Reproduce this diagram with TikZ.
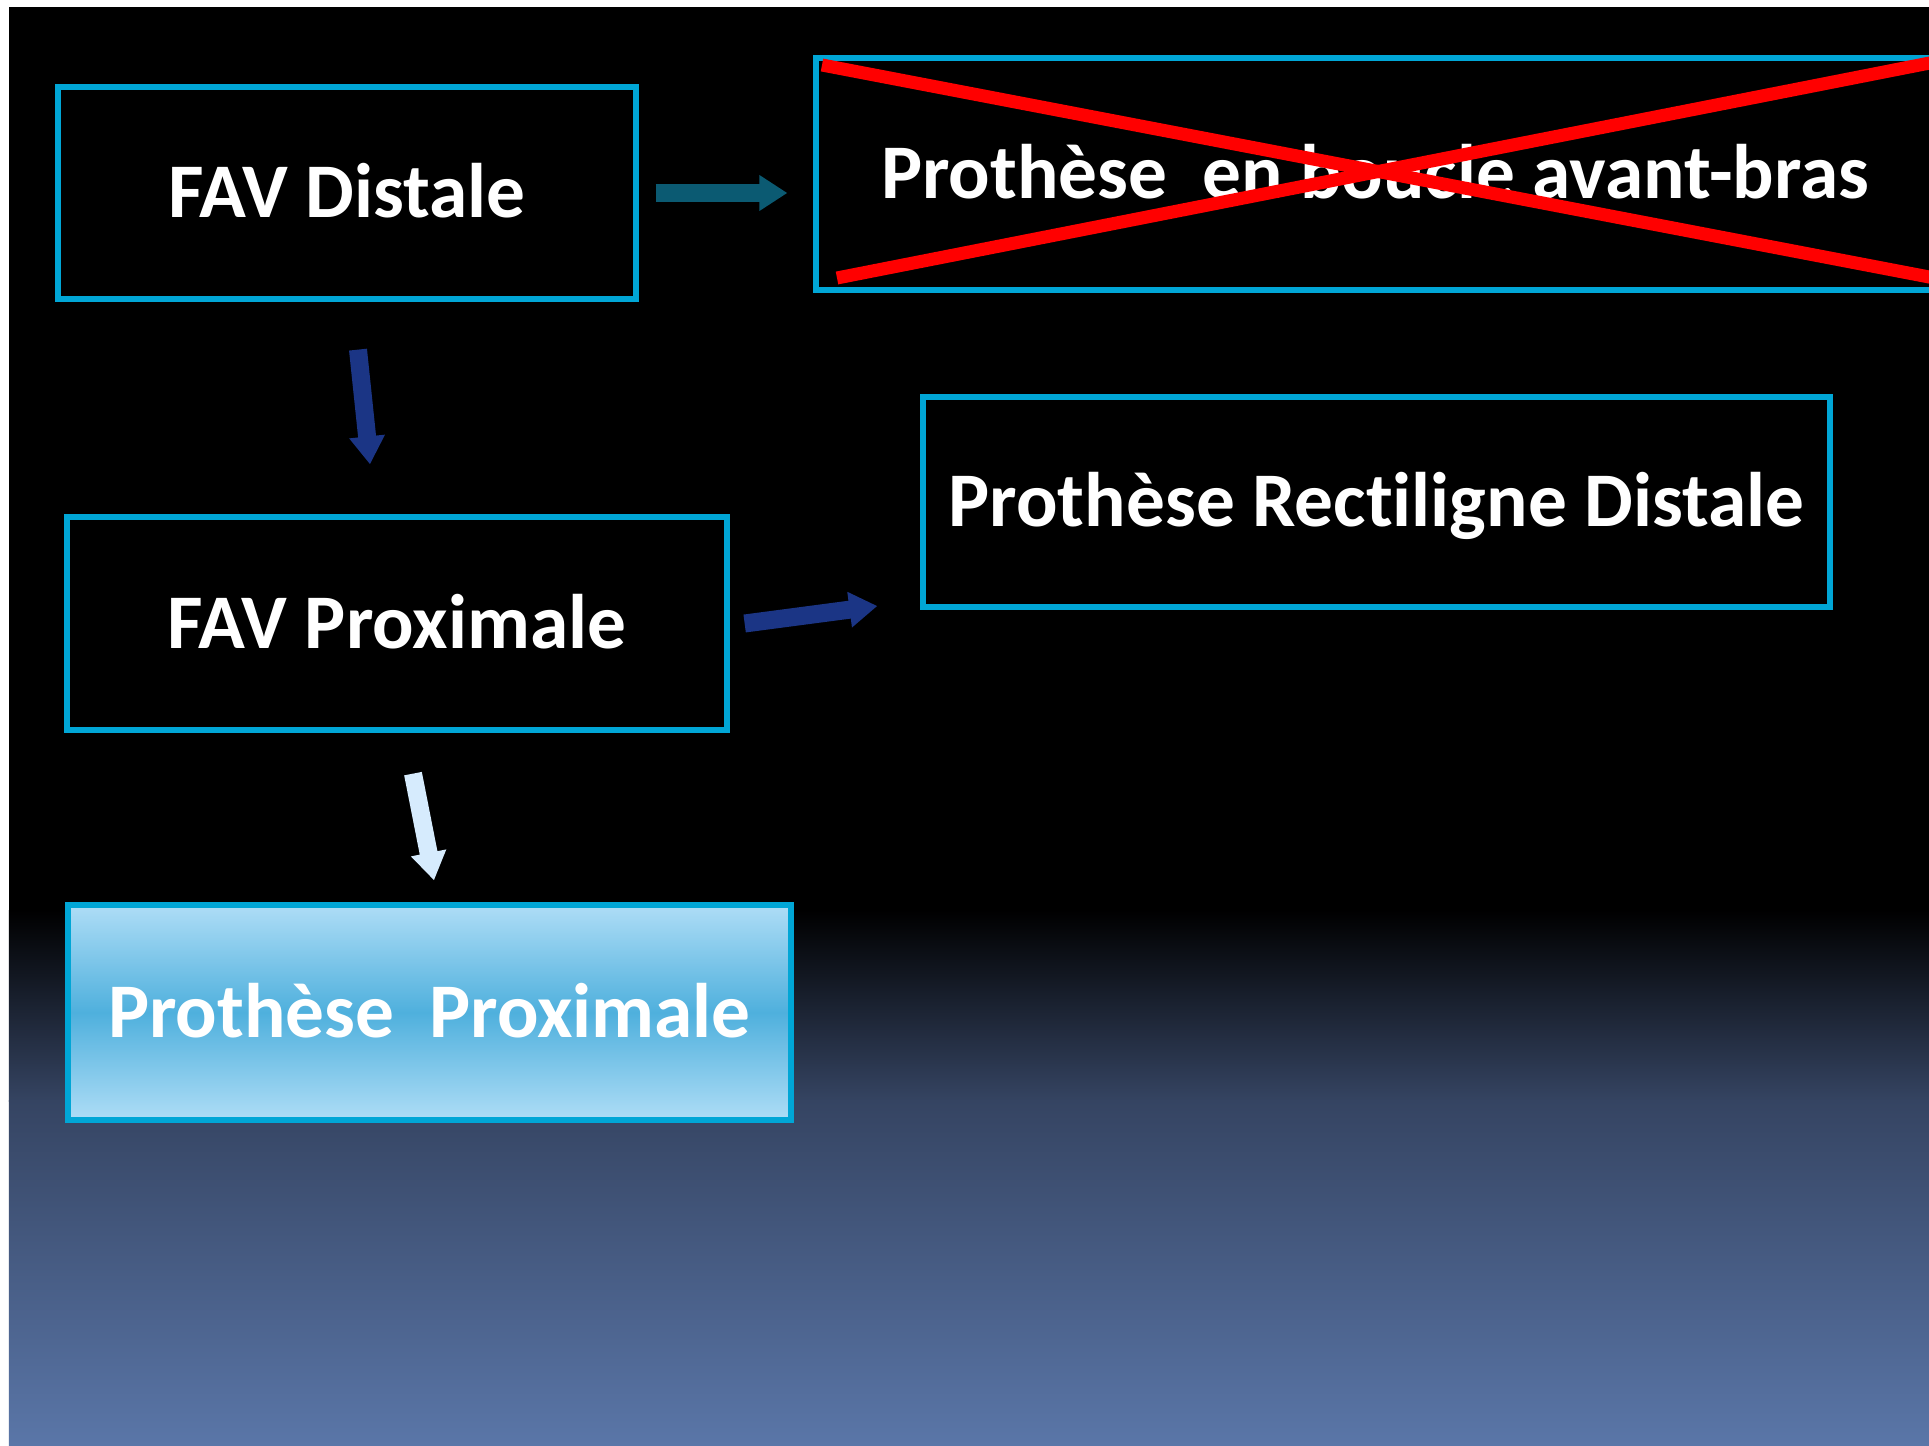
\documentclass[tikz,border=0pt]{standalone}
\usepackage{fontspec}
\setmainfont{Carlito}[Ligatures=NoCommon]
\usepackage{tikz}
\usetikzlibrary{calc,arrows.meta}
\definecolor{boxcyan}{HTML}{00A6D6}
\definecolor{slateA}{HTML}{354462}
\definecolor{slateB}{HTML}{5A76A8}
\definecolor{ppLight}{HTML}{AEDDF6}
\definecolor{ppMid}{HTML}{4FB0DD}
\definecolor{arrTeal}{HTML}{0B5A72}
\definecolor{arrNavy}{HTML}{1B3585}
\definecolor{arrPale}{HTML}{D6EBFD}
\tikzstyle{block} = [draw=boxcyan, line width=1.5pt, fill=black, text=white, inner sep=0pt,
    font=\bfseries\fontsize{22}{26}\selectfont, text height=.49cm, text depth=0pt]
\tikzstyle{fat} = [line width=.18cm, -{Triangle[length=.28cm,width=.34cm]}]

\begin{document}
\begin{tikzpicture}
    \useasboundingbox (0,0) rectangle (19.29,14.45);
    \clip (0,0) rectangle (19.29,14.45);
    % slide background
    \fill[white] (0,0) rectangle (19.29,14.45);
    \fill[black] (.09,3.44) rectangle (19.29,14.38);
    \shade[top color=black, bottom color=slateA] (.09,3.44) rectangle (19.29,5.35);
    \shade[top color=slateA, bottom color=slateB] (.09,0) rectangle (19.29,3.45);

    \draw (3.47,12.52) node[block, minimum width=5.78cm, minimum height=2.12cm] (dist) {FAV Distale};
    \draw (13.75,12.71) node[block, minimum width=11.18cm, minimum height=2.32cm] (boucle) {Prothèse\ \ en boucle avant-bras};
    \draw (13.765,9.43) node[block, minimum width=9.07cm, minimum height=2.10cm] (recti) {Prothèse Rectiligne Distale};
    \draw (3.97,8.215) node[block, minimum width=6.60cm, minimum height=2.13cm] (prox) {FAV Proximale};
    \draw (4.295,4.325) node[block, top color=ppLight, bottom color=ppLight, middle color=ppMid,
        minimum width=7.23cm, minimum height=2.15cm] (pprox) {Prothèse\ \ Proximale};

    \draw[fat, arrTeal, shorten <=.17cm, shorten >=.26cm] (dist.east) -- (dist.east -| boucle.west);
    \draw[fat, arrNavy] ($(dist.south)+(.11,-.48)$) -- ($(prox.north)+(-.27,.5)$);
    \draw[fat, arrNavy] ($(prox.east)+(.15,0)$) -- ($(recti.west)+(-.43,-1.04)$);
    \draw[fat, arrPale] ($(prox.south)+(.16,-.41)$) -- ($(pprox.north)+(.045,.22)$);

    % crossed out
    \draw[red, line width=.13cm] (8.22,13.80) -- (19.5,11.64);
    \draw[red, line width=.13cm] (8.37,11.67) -- (19.5,13.86);
\end{tikzpicture}
\end{document}
